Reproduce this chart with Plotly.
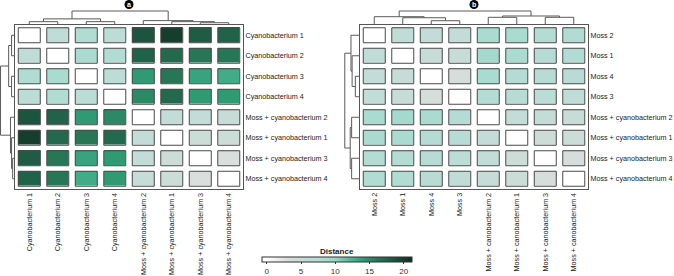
import plotly.graph_objects as go

W, H = 674, 276

# ---------------- data ----------------
a_row_labels = ["Cyanobacterium 1", "Cyanobacterium 2", "Cyanobacterium 3", "Cyanobacterium 4",
                "Moss + cyanobacterium 2", "Moss + cyanobacterium 1", "Moss + cyanobacterium 3",
                "Moss + cyanobacterium 4"]
a_col_labels = list(a_row_labels)
a_dist = [
    [0, 6, 8, 6.5, 18.5, 20, 18, 17.5],
    [6, 0, 8.5, 8, 17.5, 17, 16, 16],
    [8, 8.5, 0, 6.5, 14, 16, 13.5, 13],
    [6.5, 8, 6.5, 0, 15, 17, 14, 14],
    [18.5, 17.5, 14, 15, 0, 5.5, 5.5, 5],
    [20, 17, 16, 17, 5.5, 0, 4.5, 4.5],
    [18, 16, 13.5, 14, 5.5, 4.5, 0, 3],
    [17.5, 16, 13, 14, 5, 4.5, 3, 0],
]
# merges: (child, child, height); leaves 0..7, new nodes numbered from 8
a_merges = [(6, 7, 2.6), (5, 8, 3.8), (0, 1, 3.8), (2, 3, 3.8), (10, 11, 7), (4, 9, 5), (12, 13, 16)]

b_row_labels = ["Moss 2", "Moss 1", "Moss 4", "Moss 3",
                "Moss + cyanobacterium 2", "Moss + cyanobacterium 1", "Moss + cyanobacterium 3",
                "Moss + cyanobacterium 4"]
b_col_labels = ["Moss 2", "Moss 1", "Moss 4", "Moss 3",
                "Moss + canobacterium 2", "Moss + canobacterium 1", "Moss + canobacterium 3",
                "Moss + canobacterium 4"]
b_dist = [
    [0, 6, 5.5, 5.5, 8.5, 8.5, 7.5, 8],
    [6, 0, 5, 5, 9, 8.5, 7.5, 8],
    [5.5, 5, 0, 3.5, 8.5, 7.5, 7, 7],
    [5.5, 5, 3.5, 0, 7.5, 7, 6.5, 6],
    [8.5, 9, 8.5, 7.5, 0, 5.5, 5.5, 5],
    [8.5, 8.5, 7.5, 7, 5.5, 0, 4.5, 4.5],
    [7.5, 7.5, 7, 6.5, 5.5, 4.5, 0, 3.5],
    [8, 8, 7, 6, 5, 4.5, 3.5, 0],
]
b_merges = [(2, 3, 4.9), (1, 8, 8.3), (0, 9, 9.5), (4, 5, 8.8), (6, 7, 8.8), (11, 12, 10.3), (10, 13, 16)]

cbar_ticks = [0, 5, 10, 15, 20]
panel_tags = ["a", "b"]

# ---------------- style ----------------
FONT = "Liberation Sans, Arial, sans-serif"
ZMIN, ZMAX = -0.7, 21.2
stops = [(-0.7, "#ffffff"), (0, "#ffffff"), (3, "#d9dfdc"), (5, "#c8dcd7"), (8, "#b0dcd4"),
         (10, "#99d6c8"), (12, "#55bb9a"), (14, "#2f9a74"), (16, "#277757"), (18, "#1f5b45"),
         (20, "#153e2f"), (21.2, "#0c2f22")]
colorscale = [[(v - ZMIN) / (ZMAX - ZMIN), c] for v, c in stops]


def px_x(p):
    return p / W


def px_y(p):
    return 1 - p / H


def dendro_lines(merges, n):
    pos = {i: float(i) for i in range(n)}
    hgt = {i: 0.0 for i in range(n)}
    xs, ys = [], []
    for k, (a, b, h) in enumerate(merges):
        node = n + k
        xs += [pos[a], pos[a], pos[b], pos[b], None]
        ys += [hgt[a], h, h, hgt[b], None]
        pos[node] = (pos[a] + pos[b]) / 2
        hgt[node] = h
    return xs, ys


fig = go.Figure()
shapes = []
annotations = []

panels = [
    dict(dist=a_dist, rows=a_row_labels, cols=a_col_labels, merges=a_merges,
         box=(15, 243), rowdend=(0, 15, 16.6), tag=panel_tags[0], ax=("x", "y", "x2", "y2", "x3", "y3")),
    dict(dist=b_dist, rows=b_row_labels, cols=b_col_labels, merges=b_merges,
         box=(360, 588), rowdend=(335, 360, 26.3), tag=panel_tags[1], ax=("x4", "y4", "x5", "y5", "x6", "y6")),
]

BOX_TOP, BOX_BOT = 25, 189
DEND_SCALE = 0.875  # px per unit for column dendrogram
n = 8
pitch_x = (243 - 15) / n
pitch_y = (BOX_BOT - BOX_TOP) / n
gx, gy = 6.5, 5.5
hx = 0.5 - (gx / 2) / pitch_x
hy = 0.5 - (gy / 2) / pitch_y

layout_axes = {}
for p in panels:
    xh, yh, xc, yc, xr, yr = p["ax"]
    idx = list(range(n))
    fig.add_trace(go.Heatmap(z=p["dist"], x=idx, y=idx, coloraxis="coloraxis",
                             xgap=gx, ygap=gy, xaxis=xh, yaxis=yh, hoverinfo="skip"))
    for r in range(n):
        for c in range(n):
            shapes.append(dict(type="rect", xref=xh, yref=yh, x0=c - hx, x1=c + hx,
                               y0=r - hy, y1=r + hy, line=dict(color="#4a4a4a", width=1),
                               fillcolor="rgba(0,0,0,0)", layer="above"))
    dx, dy = dendro_lines(p["merges"], n)
    # column dendrogram
    fig.add_trace(go.Scatter(x=dx, y=dy, mode="lines", line=dict(color="#5a5a5a", width=1),
                             xaxis=xc, yaxis=yc, hoverinfo="skip", showlegend=False))
    # row dendrogram
    fig.add_trace(go.Scatter(x=dy, y=dx, mode="lines", line=dict(color="#5a5a5a", width=1),
                             xaxis=xr, yaxis=yr, hoverinfo="skip", showlegend=False))

    x0, x1 = p["box"]
    hdom = [px_x(x0), px_x(x1)]
    vdom = [px_y(BOX_BOT), px_y(BOX_TOP)]
    tickfont = dict(family=FONT, size=7.2, color="#222")
    layout_axes[xh.replace("x", "xaxis")] = dict(
        domain=hdom, range=[-0.5, 7.5], tickvals=idx, ticktext=p["cols"], tickangle=-90,
        ticks="", showline=True, mirror=True, linecolor="#555", linewidth=1, showgrid=False,
        zeroline=False, tickfont=tickfont, anchor=yh, fixedrange=True, automargin=False)
    layout_axes[yh.replace("y", "yaxis")] = dict(
        domain=vdom, range=[7.5, -0.5], tickvals=idx, ticktext=p["rows"], side="right",
        ticks="", showline=True, mirror=True, linecolor="#555", linewidth=1, showgrid=False,
        zeroline=False, tickfont=tickfont, anchor=xh, fixedrange=True, automargin=False)
    layout_axes[xc.replace("x", "xaxis")] = dict(domain=hdom, range=[-0.5, 7.5], visible=False,
                                                 anchor=yc, automargin=False)
    layout_axes[yc.replace("y", "yaxis")] = dict(domain=[px_y(BOX_TOP), 1],
                                                 range=[0, BOX_TOP / DEND_SCALE], visible=False,
                                                 anchor=xc, automargin=False)
    rx0, rx1, rmax = p["rowdend"]
    layout_axes[xr.replace("x", "xaxis")] = dict(domain=[px_x(rx0), px_x(rx1)], range=[rmax, 0],
                                                 visible=False, anchor=yr, automargin=False)
    layout_axes[yr.replace("y", "yaxis")] = dict(domain=vdom, range=[7.5, -0.5], visible=False,
                                                 anchor=xr, automargin=False)
    # panel badge
    cx = (x0 + x1) / 2
    shapes.append(dict(type="circle", xref="paper", yref="paper",
                       x0=px_x(cx - 4.5), x1=px_x(cx + 4.5), y0=px_y(9), y1=px_y(0),
                       fillcolor="black", line=dict(color="black", width=0)))
    annotations.append(dict(x=px_x(cx), y=px_y(4.7), xref="paper", yref="paper", text="<b>%s</b>" % p["tag"],
                            showarrow=False, font=dict(family=FONT, size=7, color="white"),
                            xanchor="center", yanchor="middle"))

annotations.append(dict(x=0.5, y=px_y(251), xref="paper", yref="paper", text="<b>Distance</b>",
                        showarrow=False, font=dict(family=FONT, size=8, color="#222"),
                        xanchor="center", yanchor="middle"))

fig.update_layout(
    width=W, height=H, margin=dict(l=0, r=0, t=0, b=0, autoexpand=False),
    paper_bgcolor="white", plot_bgcolor="white",
    font=dict(family=FONT, size=8, color="#222"),
    showlegend=False,
    coloraxis=dict(
        colorscale=colorscale, cmin=ZMIN, cmax=ZMAX,
        colorbar=dict(orientation="h", x=0.5, xanchor="center", y=px_y(257), yanchor="top",
                      len=150, lenmode="pixels", thickness=5, thicknessmode="pixels",
                      xpad=0, ypad=0, tickvals=cbar_ticks, ticks="outside", ticklen=2,
                      tickcolor="#333", tickfont=dict(family=FONT, size=8, color="#333"),
                      outlinewidth=1, outlinecolor="#333"),
    ),
    shapes=shapes, annotations=annotations,
    **layout_axes,
)

fig.write_html("out.html", config={"displayModeBar": False},
               post_script="document.body.style.margin='0';document.body.style.overflow='hidden';")
